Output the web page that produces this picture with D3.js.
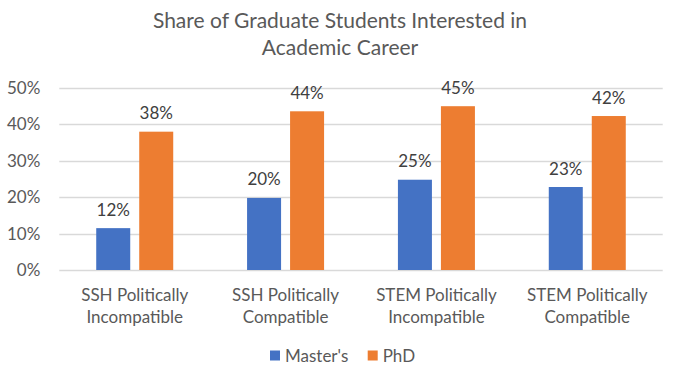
<!DOCTYPE html>
<html>
<head>
<meta charset="utf-8">
<script src="https://cdn.jsdelivr.net/npm/d3@7"></script>
<style>
  body { margin: 0; background: #fff; }
  text { font-family: Lato, "Open Sans", sans-serif; }
</style>
</head>
<body>
<div id="chart"></div>
<script>
// chart data
var categories = [
  ['SSH Politically', 'Incompatible'],
  ['SSH Politically', 'Compatible'],
  ['STEM Politically', 'Incompatible'],
  ['STEM Politically', 'Compatible']
];
var seriesNames = ["Master's", 'PhD'];
var mastersValues = [0.115, 0.198, 0.248, 0.228];
var phdValues = [0.38, 0.436, 0.45, 0.423];
var yTicks = [0, 0.1, 0.2, 0.3, 0.4, 0.5];
var colors = ['#4472C4', '#ED7D31'];

var width = 680, height = 383;
var plot = {left: 59.3, right: 662.7, top: 88, bottom: 270};

var svg = d3.select('#chart').append('svg')
  .attr('width', width)
  .attr('height', height);

// title
var title = svg.append('text')
  .attr('text-anchor', 'middle')
  .attr('fill', '#595959')
  .style('font-size', '21px');
title.append('tspan').attr('x', 340).attr('y', 28).text('Share of Graduate Students Interested in');
title.append('tspan').attr('x', 340).attr('y', 55).text('Academic Career');

var catKeys = categories.map(function (d) { return d.join(' '); });

var x0 = d3.scaleBand()
  .domain(catKeys)
  .range([plot.left, plot.right]);

var pairWidth = 77;
var x1 = d3.scaleBand()
  .domain(seriesNames)
  .range([0, pairWidth])
  .paddingInner(9 / 43);

var y = d3.scaleLinear()
  .domain([0, 0.5])
  .range([plot.bottom, plot.top]);

// gridlines
svg.append('g')
  .selectAll('line')
  .data(yTicks)
  .enter().append('line')
  .attr('x1', plot.left)
  .attr('x2', plot.right)
  .attr('y1', function (d) { return Math.round(y(d)) + 0.5; })
  .attr('y2', function (d) { return Math.round(y(d)) + 0.5; })
  .attr('stroke', '#D9D9D9')
  .attr('stroke-width', 1.3);

// y axis labels
var yAxis = d3.axisLeft(y)
  .tickValues(yTicks)
  .tickFormat(d3.format('.0%'))
  .tickSize(0)
  .tickPadding(19);

var yg = svg.append('g')
  .attr('transform', 'translate(' + plot.left + ',0)')
  .call(yAxis);
yg.select('.domain').remove();
yg.selectAll('text')
  .attr('fill', '#595959')
  .style('font-size', '17px')
  .style('font-family', 'Lato, sans-serif');

// rows of bar data
var rows = catKeys.map(function (k, i) {
  return {cat: k, values: [
    {series: seriesNames[0], value: mastersValues[i]},
    {series: seriesNames[1], value: phdValues[i]}
  ]};
});

var offset = (x0.bandwidth() - pairWidth) / 2;

var groups = svg.append('g')
  .selectAll('g')
  .data(rows)
  .enter().append('g')
  .attr('transform', function (d) { return 'translate(' + (x0(d.cat) + offset) + ',0)'; });

groups.selectAll('rect')
  .data(function (d) { return d.values; })
  .enter().append('rect')
  .attr('x', function (d) { return x1(d.series); })
  .attr('width', x1.bandwidth())
  .attr('y', function (d) { return y(d.value); })
  .attr('height', function (d) { return y(0) - y(d.value); })
  .attr('fill', function (d, i) { return colors[i]; });

groups.selectAll('text')
  .data(function (d) { return d.values; })
  .enter().append('text')
  .attr('x', function (d) { return x1(d.series) + x1.bandwidth() / 2; })
  .attr('y', function (d) { return y(d.value) - 12.5; })
  .attr('text-anchor', 'middle')
  .attr('fill', '#404040')
  .style('font-size', '17px')
  .text(function (d) { return d3.format('.0%')(d.value); });

// category labels
var catLabels = svg.append('g')
  .selectAll('text')
  .data(categories)
  .enter().append('text')
  .attr('text-anchor', 'middle')
  .attr('fill', '#595959')
  .style('font-size', '17px');

catLabels.each(function (d, i) {
  var t = d3.select(this);
  var cx = x0(catKeys[i]) + x0.bandwidth() / 2;
  t.append('tspan').attr('x', cx).attr('y', 301).text(d[0]);
  t.append('tspan').attr('x', cx).attr('y', 323).text(d[1]);
});

// legend
var legendX = [270, 367.7];
var legend = svg.append('g')
  .selectAll('g')
  .data(seriesNames)
  .enter().append('g')
  .attr('transform', function (d, i) { return 'translate(' + legendX[i] + ',350.5)'; });

legend.append('rect')
  .attr('width', 10)
  .attr('height', 10)
  .attr('fill', function (d, i) { return colors[i]; });

legend.append('text')
  .attr('x', 15)
  .attr('y', 11)
  .attr('fill', '#595959')
  .style('font-size', '17px')
  .text(function (d) { return d; });
</script>
</body>
</html>
